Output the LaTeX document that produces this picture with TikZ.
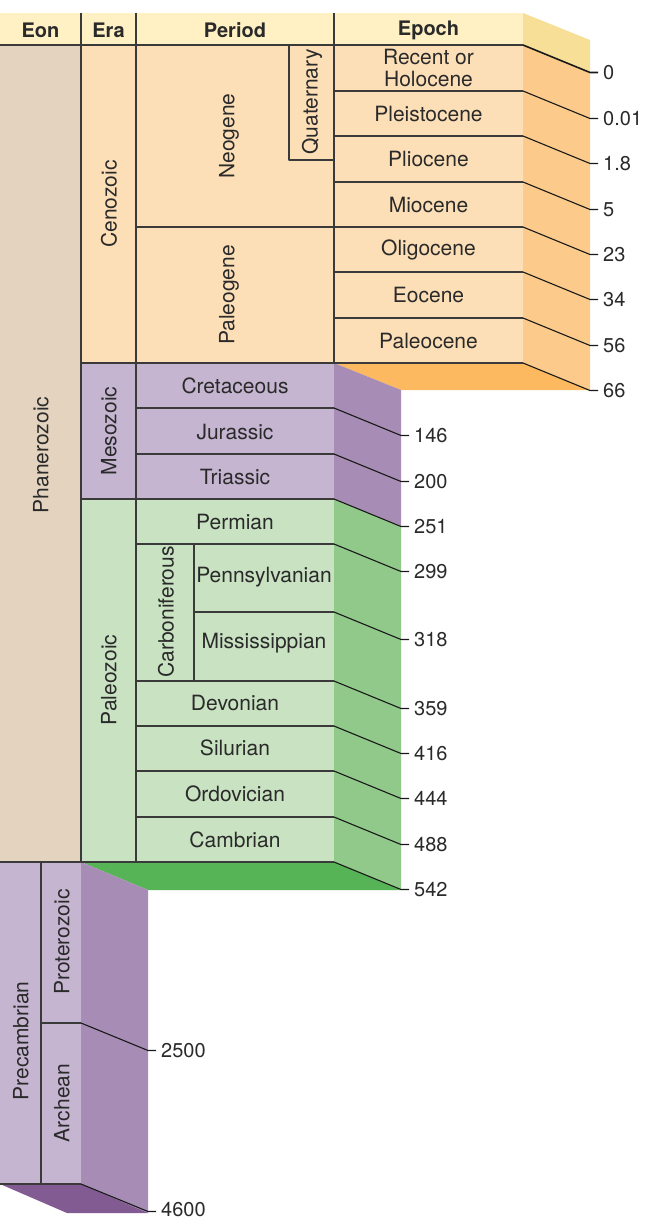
\documentclass[tikz,border=0pt]{standalone}
\usepackage{fontspec}
\setmainfont{TeX Gyre Heros}
\definecolor{hdrc}{HTML}{FFF1C4}
\definecolor{hdrside}{HTML}{F7DF98}
\definecolor{phan}{HTML}{E3D3BF}
\definecolor{ceno}{HTML}{FDDFB7}
\definecolor{cenoside}{HTML}{FCCB8B}
\definecolor{cenobot}{HTML}{FDB95F}
\definecolor{meso}{HTML}{C5B5D1}
\definecolor{mesoside}{HTML}{A78DB5}
\definecolor{paleo}{HTML}{C8E2C2}
\definecolor{paleoside}{HTML}{91C98A}
\definecolor{paleobot}{HTML}{56B356}
\definecolor{prebot}{HTML}{835B93}
\definecolor{lc}{HTML}{3A3A3A}
\definecolor{tc}{HTML}{2A2A2A}
\begin{document}
\begin{tikzpicture}[x=1pt,y=-1pt,line join=round,
  gridline/.style={draw=lc,line width=1.2pt},
  lbl/.style={font=\fontsize{21}{21.5}\selectfont,text=tc,inner sep=0pt,align=center},
  hdr/.style={font=\bfseries\fontsize{20}{21}\selectfont,text=tc,inner sep=0pt},
  vlbl/.style={lbl,rotate=90},
  tickline/.style={draw=black!90,line width=1.1pt},
  num/.style={font=\fontsize{20}{21}\selectfont,text=tc,inner sep=0pt,anchor=west}]
\useasboundingbox (0,0) rectangle (645,1220);
% faces
\fill[hdrc] (0,13) rectangle (523,45);
\fill[hdrside] (523,13) -- (590,40) -- (590,73) -- (523,45) -- cycle;
\fill[phan] (0,45) rectangle (81,862);
\fill[ceno] (81,45) rectangle (523,363);
\fill[cenoside] (523,45) -- (590,73) -- (590,390) -- (523,363) -- cycle;
\fill[cenobot] (334,363) -- (523,363) -- (590,390) -- (401,390) -- cycle;
\fill[meso] (81,363) rectangle (334,499);
\fill[mesoside] (334,363) -- (401,390) -- (401,526) -- (334,499) -- cycle;
\fill[paleo] (81,499) rectangle (334,862);
\fill[paleoside] (334,499) -- (401,526) -- (401,890) -- (334,862) -- cycle;
\fill[paleobot] (81,862) -- (334,862) -- (401,890) -- (148,890) -- cycle;
\fill[meso] (0,862) rectangle (81,1184);
\fill[mesoside] (81,862) -- (148,890) -- (148,1213) -- (81,1184) -- cycle;
\fill[prebot] (0,1184) -- (81,1184) -- (148,1213) -- (67,1213) -- cycle;
% grid
\draw[gridline] (0,45) -- (523,45);
\draw[gridline] (81,13) -- (81,862);
\draw[gridline] (136,13) -- (136,862);
\draw[gridline] (334,13) -- (334,363);
\foreach \yy in {91,136,182,272,318} \draw[gridline] (334,\yy) -- (523,\yy);
\draw[gridline] (136,227) -- (523,227);
\draw[gridline] (81,363) -- (523,363);
\draw[gridline] (289,45) -- (289,160) -- (334,160);
\foreach \yy in {408,454,544,681,726,771,817} \draw[gridline] (136,\yy) -- (334,\yy);
\draw[gridline] (81,499) -- (334,499);
\draw[gridline] (194,544) -- (194,681);
\draw[gridline] (194,612) -- (334,612);
\draw[gridline] (0,862) -- (334,862);
\draw[gridline] (41,862) -- (41,1184);
\draw[gridline] (41,1023) -- (81,1023);
\draw[gridline] (0,1184) -- (81,1184);
% headers
\node[hdr] (heon) at (40.5,30) {Eon};
\node[hdr] (hera) at (108.5,30) {Era};
\node[hdr] (hperiod) at (235,30) {Period};
\node[hdr] (hepoch) at (428.5,30) {Epoch};
% epochs
\node[lbl] (recent) at (428.5,68) {Recent or\\Holocene};
\node[lbl] (pleisto) at (428.5,114) {Pleistocene};
\node[lbl] (plio) at (428.5,159) {Pliocene};
\node[lbl] (mio) at (428.5,205) {Miocene};
\node[lbl] (oligo) at (428.5,250) {Oligocene};
\node[lbl] (eo) at (428.5,295) {Eocene};
\node[lbl] (paleoc) at (428.5,341) {Paleocene};
% periods
\node[vlbl] (quat) at (312,102) {Quaternary};
\node[vlbl] (neog) at (229,136) {Neogene};
\node[vlbl] (paleog) at (229,295) {Paleogene};
\node[lbl] (cret) at (235,386) {Cretaceous};
\node[lbl] (jur) at (235,432) {Jurassic};
\node[lbl] (tri) at (235,477) {Triassic};
\node[lbl] (perm) at (235,522) {Permian};
\node[vlbl] (carb) at (166,612) {Carboniferous};
\node[lbl] (penn) at (264,577) {Pennsylvanian};
\node[lbl] (miss) at (264,643) {Mississippian};
\node[lbl] (dev) at (235,703) {Devonian};
\node[lbl] (sil) at (235,748) {Silurian};
\node[lbl] (ordo) at (235,794) {Ordovician};
\node[lbl] (camb) at (235,840) {Cambrian};
% eras and eons
\node[vlbl] (cenoz) at (109,204) {Cenozoic};
\node[vlbl] (mesoz) at (109,431) {Mesozoic};
\node[vlbl] (paleoz) at (109,680) {Paleozoic};
\node[vlbl] (phaner) at (41,455) {Phanerozoic};
\node[vlbl] (precamb) at (21,1041) {Precambrian};
\node[vlbl] (proter) at (62,942) {Proterozoic};
\node[vlbl] (arch) at (62,1103) {Archean};
% ticks
\foreach \fx/\fy/\val/\lw [count=\i] in {523/45/0/1.6,523/91/0.01/1.1,523/136/1.8/1.1,523/182/5/1.1,523/227/23/1.1,523/272/34/1.1,523/318/56/1.1,523/363/66/1.1,334/408/146/1.1,334/454/200/1.1,334/499/251/1.1,334/544/299/1.1,334/612/318/1.1,334/681/359/1.1,334/726/416/1.1,334/771/444/1.1,334/817/488/1.1,334/862/542/1.1,81/1023/2500/1.1}{
  \path (\fx,\fy) coordinate (f\i) ++(67,27.5) coordinate (b\i);
  \node[num] (t\i) at ([xshift=13pt]b\i) {\val};
  \draw[tickline,line width=\lw pt] (f\i) -- (b\i) -- ([xshift=-5pt]t\i.west);
}
\path (81,1184) coordinate (flast) ++(67,27.5) coordinate (blast);
\node[num] (tlast) at ([xshift=13pt,yshift=2pt]blast) {4600};
\draw[tickline] (flast) -- (blast) -- ([xshift=-5pt,yshift=-2pt]tlast.west);
\end{tikzpicture}
\end{document}
